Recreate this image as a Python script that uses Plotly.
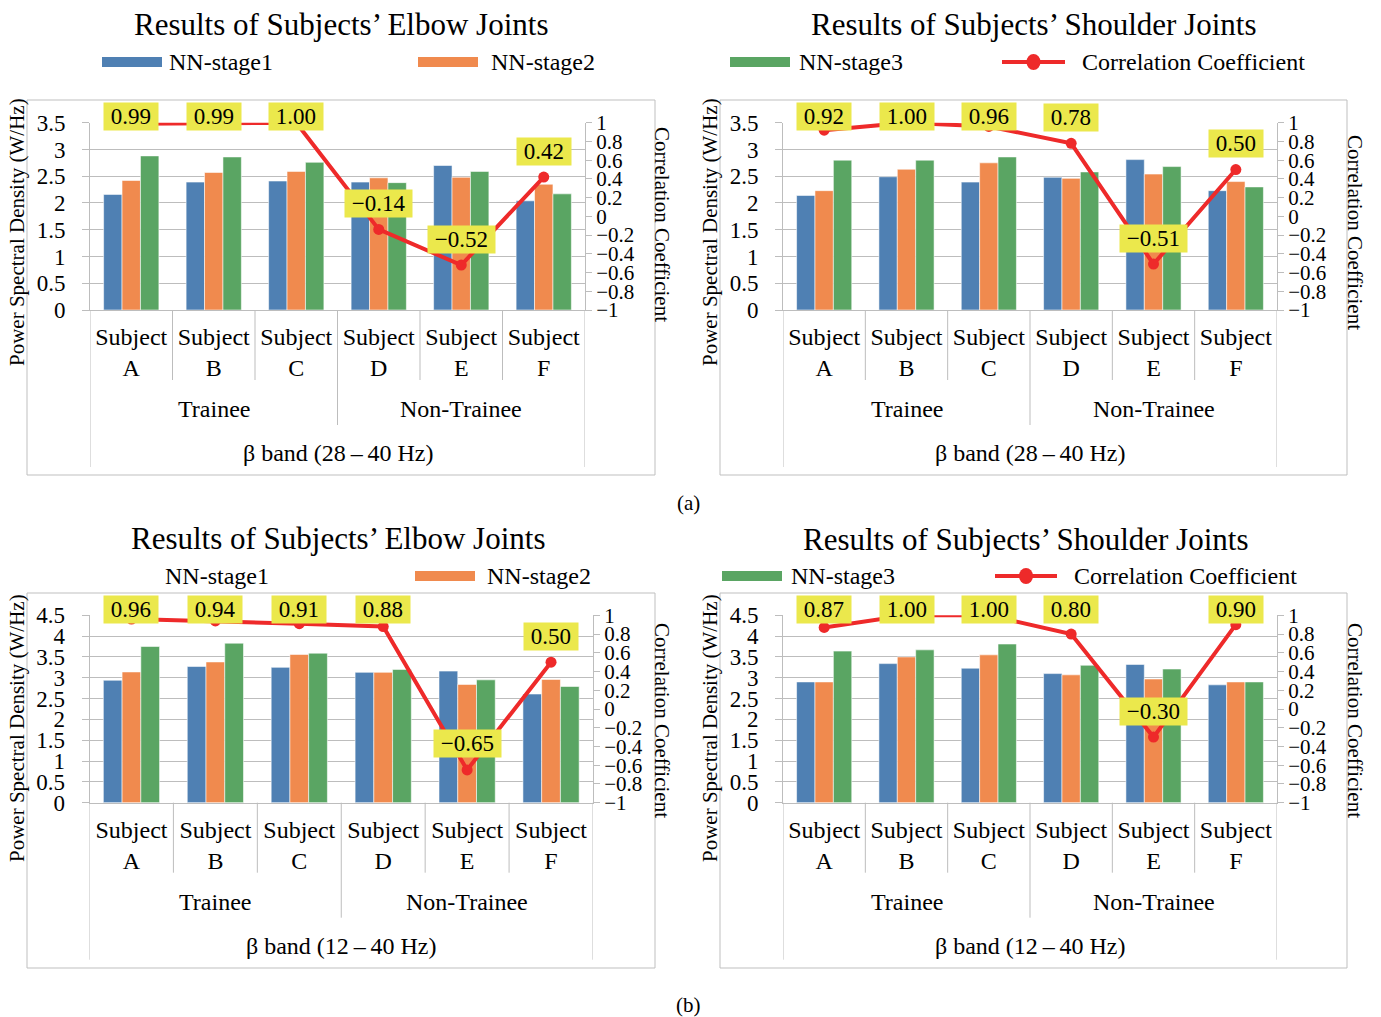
import plotly.graph_objects as go

# ---------------- data ----------------
subjects = ["A", "B", "C", "D", "E", "F"]
cat_labels = [f"Subject<br>{s}" for s in subjects]
group_names = ["Trainee", "Non-Trainee"]
stage_names = ["NN-stage1", "NN-stage2", "NN-stage3"]
corr_name = "Correlation Coefficient"

# Elbow joints, beta band 28-40 Hz
elbow_28_40_stage1 = [2.16, 2.39, 2.41, 2.39, 2.70, 2.04]
elbow_28_40_stage2 = [2.42, 2.57, 2.59, 2.47, 2.48, 2.35]
elbow_28_40_stage3 = [2.88, 2.86, 2.76, 2.38, 2.59, 2.17]
elbow_28_40_corr = [0.99, 0.99, 1.00, -0.14, -0.52, 0.42]

# Shoulder joints, beta band 28-40 Hz
shoulder_28_40_stage1 = [2.14, 2.49, 2.39, 2.48, 2.81, 2.23]
shoulder_28_40_stage2 = [2.23, 2.63, 2.75, 2.46, 2.54, 2.40]
shoulder_28_40_stage3 = [2.80, 2.80, 2.86, 2.58, 2.68, 2.30]
shoulder_28_40_corr = [0.92, 1.00, 0.96, 0.78, -0.51, 0.50]

# Elbow joints, beta band 12-40 Hz
elbow_12_40_stage1 = [2.94, 3.27, 3.25, 3.13, 3.16, 2.61]
elbow_12_40_stage2 = [3.14, 3.38, 3.56, 3.13, 2.84, 2.96]
elbow_12_40_stage3 = [3.75, 3.83, 3.59, 3.20, 2.95, 2.79]
elbow_12_40_corr = [0.96, 0.94, 0.91, 0.88, -0.65, 0.50]

# Shoulder joints, beta band 12-40 Hz
shoulder_12_40_stage1 = [2.90, 3.34, 3.23, 3.10, 3.32, 2.83]
shoulder_12_40_stage2 = [2.90, 3.50, 3.55, 3.07, 2.97, 2.90]
shoulder_12_40_stage3 = [3.64, 3.67, 3.81, 3.30, 3.21, 2.90]
shoulder_12_40_corr = [0.87, 1.00, 1.00, 0.80, -0.30, 0.90]

title_elbow = "Results of Subjects’ Elbow Joints"
title_shoulder = "Results of Subjects’ Shoulder Joints"
band_28_40 = "β band (28\u2009–\u200940 Hz)"
band_12_40 = "β band (12\u2009–\u200940 Hz)"
ytitle_left = "Power Spectral Density (W/Hz)"
ytitle_right = "Correlation Coefficient"

# ---------------- styling ----------------
W, H = 1381, 1017
FONT = "Liberation Serif"
BAR_COLORS = ["#4f80b3", "#f08a4e", "#5aa563"]
RED = "#ee2a2a"
YELLOW = "#ebe84c"
GRID = "#bdbdbd"
FRAME = "#bfbfbf"
TICK_SIZE = 23
RIGHT_TICK_SIZE = 21
CAT_SIZE = 24


def px(x):
    return x / W


def py(y):
    return 1 - y / H


panels = [
    dict(title=title_elbow, band=band_28_40, ymax=3.5,
         stages=[elbow_28_40_stage1, elbow_28_40_stage2, elbow_28_40_stage3],
         corr=elbow_28_40_corr,
         plot=(90, 585, 122.7, 310), frame=(27, 100, 655, 475),
         title_xy=(341, 25), ltitle=(17, 232), rtitle=(662, 224)),
    dict(title=title_shoulder, band=band_28_40, ymax=3.5,
         stages=[shoulder_28_40_stage1, shoulder_28_40_stage2, shoulder_28_40_stage3],
         corr=shoulder_28_40_corr,
         plot=(783, 1277, 122.7, 310), frame=(720, 100, 1347, 475),
         title_xy=(1033.5, 25), ltitle=(710, 232), rtitle=(1355, 232)),
    dict(title=title_elbow, band=band_12_40, ymax=4.5,
         stages=[elbow_12_40_stage1, elbow_12_40_stage2, elbow_12_40_stage3],
         corr=elbow_12_40_corr,
         plot=(89.5, 593, 615.3, 802.7), frame=(27, 593, 655, 968),
         title_xy=(338, 538), ltitle=(17, 728), rtitle=(662, 720)),
    dict(title=title_shoulder, band=band_12_40, ymax=4.5,
         stages=[shoulder_12_40_stage1, shoulder_12_40_stage2, shoulder_12_40_stage3],
         corr=shoulder_12_40_corr,
         plot=(783, 1277, 615.3, 802.7), frame=(720, 593, 1347, 968),
         title_xy=(1025.5, 539), ltitle=(710, 728), rtitle=(1355, 720)),
]

fig = go.Figure()
layout = dict(
    width=W, height=H, margin=dict(l=0, r=0, t=0, b=0, pad=0, autoexpand=False),
    paper_bgcolor="white", plot_bgcolor="white",
    barmode="group", bargap=0.33, bargroupgap=0,
    showlegend=False,
    font=dict(family=FONT, color="black", size=TICK_SIZE),
)
shapes = []
annotations = []

for i, p in enumerate(panels, start=1):
    xname = "x" if i == 1 else f"x{i}"
    yl = f"y{2 * i - 1}" if i > 1 else "y"
    yr = f"y{2 * i}"
    xkey = "xaxis" if i == 1 else f"xaxis{i}"
    ylkey = "yaxis" if i == 1 else f"yaxis{2 * i - 1}"
    yrkey = f"yaxis{2 * i}"
    x0, x1, ytop, ybot = p["plot"]

    for name, vals, color in zip(stage_names, p["stages"], BAR_COLORS):
        fig.add_trace(go.Bar(
            x=cat_labels, y=vals, name=name, xaxis=xname, yaxis=yl,
            marker=dict(color=color, line=dict(color="rgba(255,255,255,0.55)", width=1)),
        ))
    fig.add_trace(go.Scatter(
        x=cat_labels, y=p["corr"], name=corr_name, xaxis=xname, yaxis=yr,
        mode="lines+markers", line=dict(color=RED, width=4),
        marker=dict(color=RED, size=11), cliponaxis=False,
    ))

    layout[xkey] = dict(
        domain=[px(x0), px(x1)], anchor=yl, type="category",
        range=[-0.5, 5.5], showline=True, linecolor=GRID, linewidth=1,
        ticks="", showgrid=False, tickfont=dict(size=CAT_SIZE),
        ticklabelstandoff=5, automargin=False,
    )
    layout[ylkey] = dict(
        domain=[py(ybot), py(ytop)], anchor=xname, range=[0, p["ymax"]],
        dtick=0.5, showgrid=True, gridcolor=GRID, gridwidth=1,
        showline=True, linecolor=GRID, linewidth=1, zeroline=False,
        ticks="outside", ticklen=7, tickcolor=GRID,
        tickfont=dict(size=TICK_SIZE), ticklabelstandoff=12, automargin=False,
    )
    layout[yrkey] = dict(
        domain=[py(ybot), py(ytop)], anchor=xname, overlaying=yl, side="right",
        range=[-1, 1], dtick=0.2, showgrid=False, zeroline=False,
        showline=True, linecolor=GRID, linewidth=1,
        ticks="outside", ticklen=6, tickcolor=GRID,
        tickfont=dict(size=RIGHT_TICK_SIZE), ticklabelstandoff=0, automargin=False,
    )

    # outer chart frame
    fx0, fy0, fx1, fy1 = p["frame"]
    shapes.append(dict(type="rect", xref="paper", yref="paper",
                       x0=px(fx0), x1=px(fx1), y0=py(fy1), y1=py(fy0),
                       line=dict(color=FRAME, width=1), layer="below"))

    # multi-level category dividers
    for b in [0.5, 1.5, 3.5, 4.5]:
        shapes.append(dict(type="line", xref=xname, yref="paper", x0=b, x1=b,
                           y0=py(ybot), y1=py(ybot + 70),
                           line=dict(color=GRID, width=1)))
    shapes.append(dict(type="line", xref=xname, yref="paper", x0=2.5, x1=2.5,
                       y0=py(ybot), y1=py(ybot + 115), line=dict(color=GRID, width=1)))
    for b in [-0.5, 5.5]:
        shapes.append(dict(type="line", xref=xname, yref="paper", x0=b, x1=b,
                           y0=py(ybot), y1=py(ybot + 157), line=dict(color=GRID, width=1)))

    # group labels and band label
    for gx, gname in zip([1, 4], group_names):
        annotations.append(dict(xref=xname, yref="paper", x=gx, y=py(ybot + 99),
                                text=gname, showarrow=False, font=dict(size=CAT_SIZE),
                                xanchor="center", yanchor="middle"))
    annotations.append(dict(xref=xname, yref="paper", x=2.5, y=py(ybot + 143),
                            text=p["band"], showarrow=False, font=dict(size=CAT_SIZE),
                            xanchor="center", yanchor="middle"))

    # correlation value labels: placed above each point, kept inside the chart frame
    unit_px = (ybot - ytop) / 2.0
    label_top = fy0 + 16.5
    for c, v in zip(cat_labels, p["corr"]):
        point_px = ytop + (1 - v) * unit_px
        shift = min(26, point_px - label_top)
        annotations.append(dict(
            xref=xname, yref=yr, x=c, y=v, yshift=shift,
            text="\u00a0" + f"{v:.2f}".replace("-", "−") + "\u00a0",
            showarrow=False, bgcolor=YELLOW, borderpad=1,
            font=dict(size=TICK_SIZE), xanchor="center", yanchor="middle"))

    # titles
    tx, ty = p["title_xy"]
    annotations.append(dict(xref="paper", yref="paper", x=px(tx), y=py(ty),
                            text=p["title"], showarrow=False, font=dict(size=31),
                            xanchor="center", yanchor="middle"))
    lx, ly = p["ltitle"]
    annotations.append(dict(xref="paper", yref="paper", x=px(lx), y=py(ly),
                            text=ytitle_left, showarrow=False, textangle=-90,
                            font=dict(size=21), xanchor="center", yanchor="middle"))
    rx, ry = p["rtitle"]
    annotations.append(dict(xref="paper", yref="paper", x=px(rx), y=py(ry),
                            text=ytitle_right, showarrow=False, textangle=90,
                            font=dict(size=21), xanchor="center", yanchor="middle"))

# ---------------- legends ----------------
def legend_row(yc, entries):
    for kind, color, sx0, sx1, tx, label in entries:
        if kind == "bar" and color is not None:
            shapes.append(dict(type="rect", xref="paper", yref="paper",
                               x0=px(sx0), x1=px(sx1), y0=py(yc + 5), y1=py(yc - 5),
                               fillcolor=color, line=dict(width=0)))
        elif kind == "line":
            shapes.append(dict(type="line", xref="paper", yref="paper",
                               x0=px(sx0), x1=px(sx1), y0=py(yc), y1=py(yc),
                               line=dict(color=color, width=4)))
            cx = (sx0 + sx1) / 2
            shapes.append(dict(type="circle", xref="paper", yref="paper",
                               x0=px(cx - 7), x1=px(cx + 7), y0=py(yc + 8), y1=py(yc - 8),
                               fillcolor=color, line=dict(width=0)))
        annotations.append(dict(xref="paper", yref="paper", x=px(tx), y=py(yc),
                                text=label, showarrow=False, font=dict(size=24),
                                xanchor="left", yanchor="middle"))


legend_row(62, [
    ("bar", BAR_COLORS[0], 102, 162, 167, stage_names[0]),
    ("bar", BAR_COLORS[1], 418, 478, 489, stage_names[1]),
    ("bar", BAR_COLORS[2], 730, 790, 797, stage_names[2]),
    ("line", RED, 1002, 1065, 1080, corr_name),
])
legend_row(576, [
    ("bar", None, 100, 160, 163, stage_names[0]),
    ("bar", BAR_COLORS[1], 415, 475, 485, stage_names[1]),
    ("bar", BAR_COLORS[2], 722, 782, 789, stage_names[2]),
    ("line", RED, 995, 1057, 1072, corr_name),
])

# sub-figure captions
annotations.append(dict(xref="paper", yref="paper", x=px(688), y=py(503), text="(a)",
                        showarrow=False, font=dict(size=21), xanchor="center", yanchor="middle"))
annotations.append(dict(xref="paper", yref="paper", x=px(688), y=py(1005), text="(b)",
                        showarrow=False, font=dict(size=21), xanchor="center", yanchor="middle"))

layout["shapes"] = shapes
layout["annotations"] = annotations
fig.update_layout(**layout)
fig.write_html("out.html")
